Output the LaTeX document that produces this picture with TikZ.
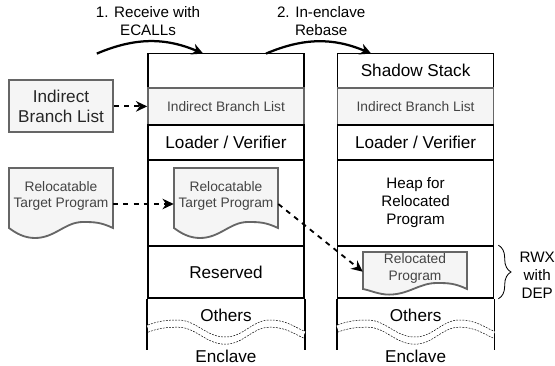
\documentclass[tikz,border=0pt]{standalone}
\usepackage{fontspec}
\setmainfont{Liberation Sans}
\usetikzlibrary{arrows.meta,decorations.pathreplacing}

\definecolor{boxgray}{HTML}{F5F5F5}
\definecolor{edgegray}{HTML}{666666}
\definecolor{textgray}{HTML}{444444}

\newcommand{\bigfont}{\fontsize{12.2}{14.6}\selectfont}
\newcommand{\midfont}{\fontsize{10.8}{12.8}\selectfont}
\newcommand{\smallfont}{\fontsize{9.8}{12}\selectfont}

% document shape: name, left, top, height, dip, text
\newcommand{\wavedoc}[6]{
    \begin{scope}[shift={(#2,#3)}]
        \draw[docline] (0,0) -- (2.6,0) -- (2.6,-#4)
            .. controls (2.3,-#4+0.14) and (2.15,-#4+0.15) .. (1.85,-#4+0.15)
            .. controls (1.4,-#4+0.15) and (1.15,-#4-#5) .. (0.65,-#4-#5)
            .. controls (0.4,-#4-#5) and (0.2,-#4-#5+0.1) .. (0,-#4) -- cycle;
        \node[doctext] (#1) at (1.3,-#4/2+0.05) {#6};
    \end{scope}
}

\begin{document}
\begin{tikzpicture}[
    % Stack cells
    cell/.style={draw=black, line width=1.1pt, minimum width=3.9cm, inner sep=0pt, font=\bigfont},
    graycell/.style={cell, draw=edgegray, fill=boxgray, text=textgray, font=\smallfont},
    stackline/.style={line width=1.1pt},
    % Outside boxes and documents
    srcbox/.style={draw=edgegray, fill=boxgray, line width=1.3pt, text=black!85, minimum width=2.6cm, minimum height=1.3cm, align=center, inner sep=0pt, font=\bigfont},
    docline/.style={draw=edgegray, fill=boxgray, line width=1.3pt},
    doctext/.style={text=textgray, minimum width=2.6cm, align=center, inner sep=0pt, font=\smallfont},
    % Connectors
    flow/.style={line width=1.6pt, -{Stealth[length=8pt,width=8pt]}},
    copyline/.style={line width=1.3pt, dash pattern=on 3.6pt off 3.6pt, -{Stealth[length=8pt,width=7.5pt]}},
    % Cut in the stack
    wavegap/.style={white, line width=4.5pt},
    waveline/.style={black, line width=0.35pt, dash pattern=on 1.3pt off 0.9pt},
    note/.style={font=\midfont, align=center, inner sep=0pt},
]
\useasboundingbox (0,0) rectangle (13.875,9.15);

% === STACKS ===
\foreach \x/\s in {5.65/l, 10.39/r} {
    \node[cell, minimum height=0.86cm] (top\s) at (\x, 7.38) {};
    \node[graycell, minimum height=0.925cm] (ibl\s) at (\x, 6.49) {Indirect Branch List};
    \node[cell, minimum height=0.875cm] (loader\s) at (\x, 5.59) {Loader / Verifier};
    \node[cell, minimum height=2.15cm] (mid\s) at (\x, 4.075) {};
    \node[cell, minimum height=1.3cm] (low\s) at (\x, 2.35) {};
    \draw[stackline] (low\s.south west) -- ++(0, -1.275);
    \draw[stackline] (low\s.south east) -- ++(0, -1.275);
    \node[font=\bigfont, inner sep=0pt] (others\s) at (\x, 1.275) {Others};
    \node[font=\bigfont, inner sep=0pt] (enclave\s) at (\x, 0.25) {Enclave};
    % Wavy cut
    \foreach \d/\st in {-0.09/wavegap, 0/waveline, -0.18/waveline} {
        \draw[\st, shift={(\x-1.95, \d)}] (0, 1.025)
            .. controls (0.25, 1.12) and (0.45, 1.15) .. (0.75, 1.15)
            .. controls (1.2, 1.15) and (1.45, 0.725) .. (1.93, 0.725)
            .. controls (2.4, 0.725) and (2.6, 1.15) .. (3.05, 1.15)
            .. controls (3.45, 1.15) and (3.65, 0.98) .. (3.9, 0.875);
    }
}

\node[font=\bigfont, inner sep=0pt] (shadow) at (topr) {Shadow Stack};
\node[font=\midfont, align=center, inner sep=0pt] (heap) at (midr) {Heap for\\Relocated\\Program};
\node[font=\bigfont, inner sep=0pt] (reserved) at (lowl) {Reserved};

% === BOXES ===
\node[srcbox] (iblsrc) at (1.525, 6.49) {Indirect\\Branch List};
\wavedoc{targetsrc}{0.225}{4.95}{1.5}{0.25}{Relocatable\\Target Program}
\wavedoc{targetin}{4.35}{4.95}{1.5}{0.25}{Relocatable\\Target Program}
\wavedoc{relocated}{9.075}{2.85}{0.925}{0.14}{Relocated\\Program}

% === ARROWS ===
\draw[copyline] (iblsrc.east) -- (ibll.west);
\draw[copyline] ([yshift=-0.2cm]targetsrc.east) -- ([yshift=-0.2cm]targetin.west);
\draw[copyline] ([yshift=-0.2cm]targetin.east) -- ([yshift=-0.08cm]relocated.west);

\coordinate (recvout) at (2.42, 7.81);
\coordinate (recvin) at (5.08, 7.81);
\coordinate (rebaseout) at (6.65, 7.81);
\coordinate (rebasein) at (9.28, 7.81);
\draw[flow] (recvout) to[bend left=23] (recvin);
\draw[flow] (rebaseout) to[bend left=23] (rebasein);

% === LABELS ===
\node[note] (recvlabel) at (3.7, 8.625) {1. Receive with\\ECALLs};
\node[note] (rebaselabel) at (8.03, 8.625) {2. In-enclave\\Rebase};

\draw[line width=0.6pt, decorate, decoration={brace, amplitude=9pt}] ([xshift=0.1cm]lowr.north east) -- ([xshift=0.1cm]lowr.south east);
\node[note] (rwx) at (13.43, 2.275) {RWX\\with\\DEP};

\end{tikzpicture}
\end{document}
